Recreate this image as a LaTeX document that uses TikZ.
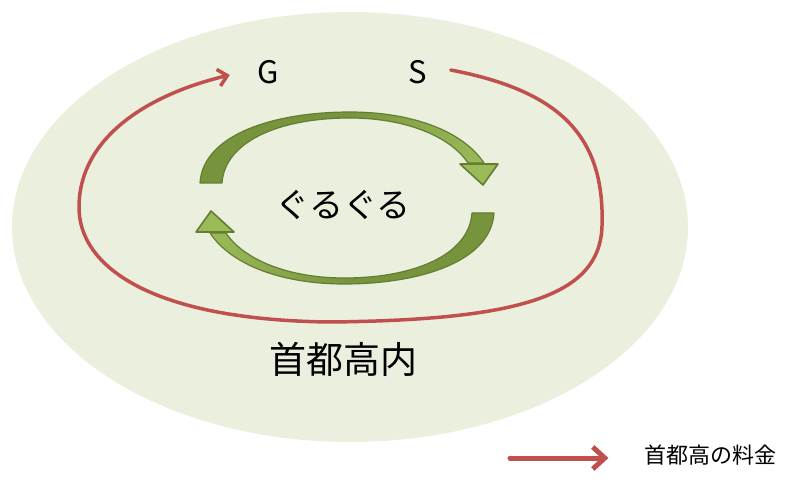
\documentclass[tikz,border=0pt]{standalone}
\usepackage{fontspec}
\setmainfont{Noto Sans CJK JP}
\usetikzlibrary{arrows.meta}
\definecolor{areafill}{HTML}{EBF0DE}
\definecolor{feered}{HTML}{C0504D}
\definecolor{loopdark}{HTML}{77933C}
\definecolor{looplight}{HTML}{9BBB59}
\tikzset{
  feeline/.style={draw=feered, line width=3.5pt, line cap=round,
    -{Straight Barb[length=9pt,width=17pt,line width=3.5pt]}},
  loopbody/.style={draw=loopdark!85!black, line width=1.2pt, line join=round},
  loophead/.style={fill=looplight, draw=loopdark!85!black, line width=1.6pt, line join=round},
}
\begin{document}
\begin{tikzpicture}[x=1pt,y=1pt]
  \useasboundingbox (0,0) rectangle (796,496);
  % area
  \fill[areafill] (350,269) ellipse [x radius=338, y radius=215];
  \node[font=\fontsize{37}{37}\selectfont] (area) at (343,137) {首都高内};
  % start and goal
  \node[font=\fontsize{31}{31}\selectfont] (G) at (268,424) {G};
  \node[font=\fontsize{31}{31}\selectfont] (S) at (418,424) {S};
  \node[font=\fontsize{34}{34}\selectfont] (loop) at (343,291) {ぐるぐる};
  % circular arrows
  \foreach \ang/\lc/\rc in {0/loopdark/looplight,180/looplight/loopdark}{
    \begin{scope}[rotate around={\ang:(347,298)}]
      \path[loopbody, left color=\lc, right color=\rc, middle color=loopdark] (200,313)
        .. controls (203,362) and (275,384) .. (350,384)
        .. controls (410,384) and (462,366) .. (484,333)
        -- (468,333)
        .. controls (450,360) and (405,378) .. (350,378)
        .. controls (280,378) and (225,355) .. (222,313) -- cycle;
      \path[loophead] (498,332) -- (483,311) -- (460,332) -- cycle;
    \end{scope}
  }
  % fee route
  \draw[feeline] ([xshift=20pt,yshift=2pt]S.east)
    .. controls (560,405) and (605,360) .. (602,270)
    .. controls (600,200) and (520,176) .. (330,174)
    .. controls (150,176) and (78,230) .. (79,290)
    .. controls (80,360) and (150,402) .. ([xshift=-24pt,yshift=-3pt]G.west);
  % legend
  \node[font=\fontsize{22}{22}\selectfont] (legend) at (710,41) {首都高の料金};
  \coordinate (legstart) at (510,38);
  \draw[feeline, line width=5pt, -{Straight Barb[length=12pt,width=22pt,line width=5pt]}]
    (legstart) -- ([xshift=-32pt,yshift=-3pt]legend.west);
\end{tikzpicture}
\end{document}
